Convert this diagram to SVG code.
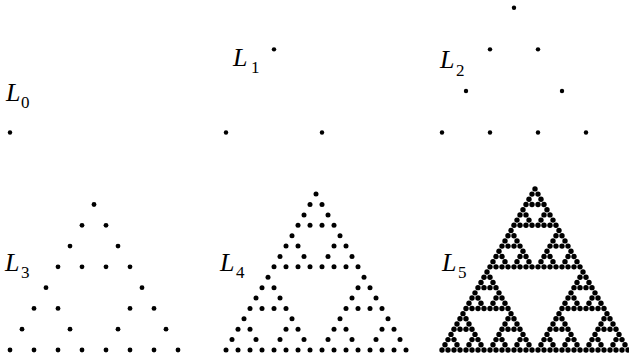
<svg xmlns="http://www.w3.org/2000/svg" xmlns:xlink="http://www.w3.org/1999/xlink" width="629" height="359" viewBox="0 0 629 359">
<style>
.lab{font-family:"Liberation Serif","DejaVu Serif",serif;font-style:italic;font-size:26px;fill:#000}
.sub{font-family:"Liberation Serif","DejaVu Serif",serif;font-size:17px;fill:#000}
circle{fill:#000}
</style>
<defs>
<circle id="d" r="2.2"/>
<circle id="d3" r="2.4"/>
<circle id="d4" r="2.5"/>
<circle id="d5" r="2.7"/>
<!-- L5 spacing 6 -->
<g id="a1"><use href="#d5"/><use href="#d5" x="-3" y="5.196"/><use href="#d5" x="3" y="5.196"/></g>
<g id="a2"><use href="#a1"/><use href="#a1" x="-6" y="10.392"/><use href="#a1" x="6" y="10.392"/></g>
<g id="a3"><use href="#a2"/><use href="#a2" x="-12" y="20.785"/><use href="#a2" x="12" y="20.785"/></g>
<g id="a4"><use href="#a3"/><use href="#a3" x="-24" y="41.569"/><use href="#a3" x="24" y="41.569"/></g>
<g id="a5"><use href="#a4"/><use href="#a4" x="-48" y="83.138"/><use href="#a4" x="48" y="83.138"/></g>
<!-- L4 spacing 12 -->
<g id="b1"><use href="#d4"/><use href="#d4" x="-6" y="10.392"/><use href="#d4" x="6" y="10.392"/></g>
<g id="b2"><use href="#b1"/><use href="#b1" x="-12" y="20.785"/><use href="#b1" x="12" y="20.785"/></g>
<g id="b3"><use href="#b2"/><use href="#b2" x="-24" y="41.569"/><use href="#b2" x="24" y="41.569"/></g>
<g id="b4"><use href="#b3"/><use href="#b3" x="-48" y="83.138"/><use href="#b3" x="48" y="83.138"/></g>
<!-- L3 spacing 24 -->
<g id="c1"><use href="#d3"/><use href="#d3" x="-12" y="20.785"/><use href="#d3" x="12" y="20.785"/></g>
<g id="c2"><use href="#c1"/><use href="#c1" x="-24" y="41.569"/><use href="#c1" x="24" y="41.569"/></g>
<g id="c3"><use href="#c2"/><use href="#c2" x="-48" y="83.138"/><use href="#c2" x="48" y="83.138"/></g>
<!-- L2 spacing 48 -->
<g id="e1"><use href="#d"/><use href="#d" x="-24" y="41.569"/><use href="#d" x="24" y="41.569"/></g>
<g id="e2"><use href="#e1"/><use href="#e1" x="-48" y="83.138"/><use href="#e1" x="48" y="83.138"/></g>
<!-- L1 spacing 96 -->
<g id="f1"><use href="#d"/><use href="#d" x="-48" y="83.138"/><use href="#d" x="48" y="83.138"/></g>
</defs>
<rect width="629" height="359" fill="#fff"/>
<g id="L0">
<use href="#d" x="10" y="132.5"/>
<text class="lab" x="6" y="101">L</text><text class="sub" x="21" y="108">0</text>
</g>
<g id="L1">
<use href="#f1" x="274" y="49.36"/>
<text class="lab" x="233" y="65.5">L</text><text class="sub" x="251" y="73">1</text>
</g>
<g id="L2">
<use href="#e2" x="514" y="7.79"/>
<text class="lab" x="440" y="68">L</text><text class="sub" x="456" y="75.5">2</text>
</g>
<g id="L3">
<use href="#c3" x="94" y="204.51"/>
<text class="lab" x="5" y="271">L</text><text class="sub" x="21" y="278">3</text>
</g>
<g id="L4">
<use href="#b4" x="316" y="194.12"/>
<text class="lab" x="220" y="271">L</text><text class="sub" x="236" y="278">4</text>
</g>
<g id="L5">
<use href="#a5" x="535" y="188.92"/>
<text class="lab" x="442" y="271">L</text><text class="sub" x="458" y="278">5</text>
</g>
</svg>
